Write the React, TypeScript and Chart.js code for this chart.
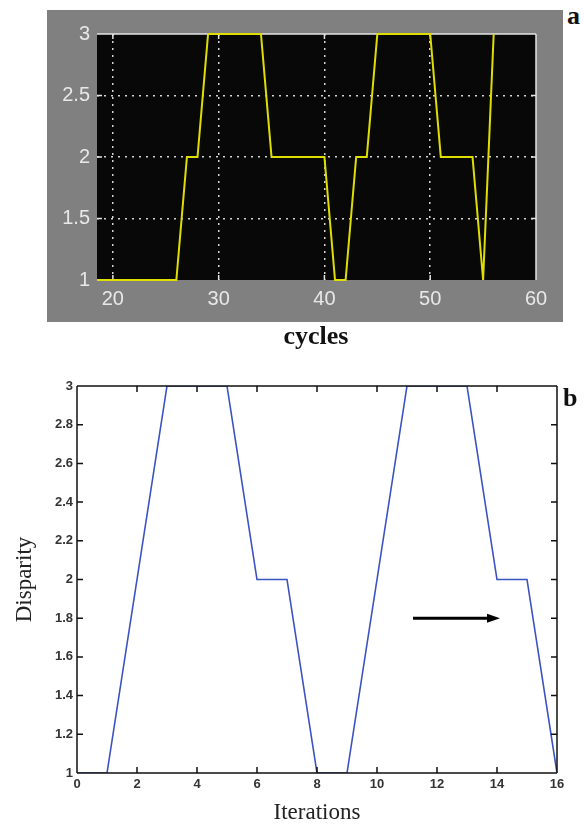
import React, { useEffect, useRef } from 'react';
import { Chart, registerables } from 'chart.js';

Chart.register(...registerables);

// ---------- Panel a: cycles ----------
const cyclesX = [18.5, 26, 27, 28, 29, 34, 35, 40, 41, 42, 43, 44, 45, 50, 51, 54, 55, 56];
const cyclesLevel = [1, 1, 2, 2, 3, 3, 2, 2, 1, 1, 2, 2, 3, 3, 2, 2, 1, 3];
const cyclesTicksX = [20, 30, 40, 50, 60];
const cyclesTicksY = [1, 1.5, 2, 2.5, 3];
const cyclesRange = [18.5, 60];
const levelRange = [1, 3];

// ---------- Panel b: iterations ----------
const iterations = [0, 1, 2, 3, 4, 5, 6, 7, 8, 9, 10, 11, 12, 13, 14, 15, 16];
const disparity = [1, 1, 2, 3, 3, 3, 2, 2, 1, 1, 2, 3, 3, 3, 2, 2, 1];
const iterTicksX = [0, 2, 4, 6, 8, 10, 12, 14, 16];
const dispTicksY = [1, 1.2, 1.4, 1.6, 1.8, 2, 2.2, 2.4, 2.6, 2.8, 3];
const iterRange = [0, 16];
const dispRange = [1, 3];
const arrowFrom = [11.2, 1.8];
const arrowTo = [14.1, 1.8];

const SANS = "'Liberation Sans', Arial, Helvetica, sans-serif";
const SERIF = "'Liberation Serif', 'Times New Roman', Times, serif";

type Side = 'top' | 'right' | 'bottom' | 'left';

function makeFramePlugin(id: string, color: string, width: number, tick: number, sides: Side[], before: boolean) {
  const draw = (chart: any) => {
    const { ctx, chartArea: a, scales } = chart;
    const xs = scales.x;
    const ys = scales.y;
    ctx.save();
    ctx.strokeStyle = color;
    ctx.lineWidth = width;
    ctx.lineCap = 'butt';
    ctx.setLineDash([]);
    ctx.beginPath();
    xs.ticks.forEach((t: any) => {
      const px = xs.getPixelForValue(t.value);
      if (px <= a.left + 1 || px >= a.right - 1) return;
      ctx.moveTo(px, a.bottom);
      ctx.lineTo(px, a.bottom - tick);
      ctx.moveTo(px, a.top);
      ctx.lineTo(px, a.top + tick);
    });
    ys.ticks.forEach((t: any) => {
      const py = ys.getPixelForValue(t.value);
      if (py <= a.top + 1 || py >= a.bottom - 1) return;
      ctx.moveTo(a.left, py);
      ctx.lineTo(a.left + tick, py);
      ctx.moveTo(a.right, py);
      ctx.lineTo(a.right - tick, py);
    });
    ctx.stroke();
    ctx.beginPath();
    if (sides.includes('top')) { ctx.moveTo(a.left, a.top); ctx.lineTo(a.right, a.top); }
    if (sides.includes('right')) { ctx.moveTo(a.right, a.top); ctx.lineTo(a.right, a.bottom); }
    if (sides.includes('bottom')) { ctx.moveTo(a.left, a.bottom); ctx.lineTo(a.right, a.bottom); }
    if (sides.includes('left')) { ctx.moveTo(a.left, a.top); ctx.lineTo(a.left, a.bottom); }
    ctx.stroke();
    ctx.restore();
  };
  return before ? { id, beforeDatasetsDraw: draw } : { id, afterDatasetsDraw: draw };
}

const blackArea = {
  id: 'blackArea',
  beforeDraw(chart: any) {
    const { ctx, chartArea: a } = chart;
    ctx.save();
    ctx.fillStyle = '#080808';
    ctx.fillRect(a.left, a.top, a.right - a.left, a.bottom - a.top);
    ctx.restore();
  },
};

const arrowPlugin = {
  id: 'arrow',
  afterDatasetsDraw(chart: any) {
    const { ctx, scales } = chart;
    const x0 = scales.x.getPixelForValue(arrowFrom[0]);
    const y0 = scales.y.getPixelForValue(arrowFrom[1]);
    const x1 = scales.x.getPixelForValue(arrowTo[0]);
    const y1 = scales.y.getPixelForValue(arrowTo[1]);
    const ang = Math.atan2(y1 - y0, x1 - x0);
    const c = Math.cos(ang);
    const s = Math.sin(ang);
    const hl = 13;
    const hw = 4.5;
    ctx.save();
    ctx.strokeStyle = '#000';
    ctx.fillStyle = '#000';
    ctx.lineWidth = 3;
    ctx.beginPath();
    ctx.moveTo(x0, y0);
    ctx.lineTo(x1 - hl * c, y1 - hl * s);
    ctx.stroke();
    ctx.beginPath();
    ctx.moveTo(x1, y1);
    ctx.lineTo(x1 - hl * c + hw * s, y1 - hl * s - hw * c);
    ctx.lineTo(x1 - hl * c - hw * s, y1 - hl * s + hw * c);
    ctx.closePath();
    ctx.fill();
    ctx.restore();
  },
};

const labelFmt = (v: any) => String(v);

export default function App() {
  const topRef = useRef<HTMLCanvasElement>(null);
  const botRef = useRef<HTMLCanvasElement>(null);

  useEffect(() => {
    const gridTop = (edge: number[]) => (ctx: any) =>
      ctx.tick && edge.includes(ctx.tick.value) ? 'rgba(0,0,0,0)' : '#d4d4d4';

    const c1 = new Chart(topRef.current as HTMLCanvasElement, {
      type: 'line',
      data: {
        datasets: [
          {
            data: cyclesX.map((x, i) => ({ x, y: cyclesLevel[i] })),
            borderColor: '#dede00',
            borderWidth: 2,
            pointRadius: 0,
            tension: 0,
            fill: false,
            clip: false as any,
          },
        ],
      },
      options: {
        responsive: false,
        animation: false,
        events: [],
        layout: { padding: { top: 24, right: 27, left: 0, bottom: 0 } },
        plugins: { legend: { display: false }, tooltip: { enabled: false } },
        scales: {
          x: {
            type: 'linear',
            min: cyclesRange[0],
            max: cyclesRange[1],
            afterBuildTicks: (s: any) => { s.ticks = cyclesTicksX.map((v) => ({ value: v })); },
            afterFit: (s: any) => { s.height = 42; },
            grid: { color: gridTop([cyclesRange[0], cyclesRange[1]]), lineWidth: 1.5, drawTicks: false },
            border: { display: false, dash: [2, 5] },
            ticks: { color: '#e8e8e8', font: { family: SANS, size: 20 }, padding: 7, maxRotation: 0, autoSkip: false, callback: labelFmt },
          },
          y: {
            type: 'linear',
            min: levelRange[0],
            max: levelRange[1],
            afterBuildTicks: (s: any) => { s.ticks = cyclesTicksY.map((v) => ({ value: v })); },
            afterFit: (s: any) => { s.width = 50; },
            grid: { color: gridTop([levelRange[0], levelRange[1]]), lineWidth: 1.5, drawTicks: false },
            border: { display: false, dash: [2, 5] },
            ticks: { color: '#e8e8e8', font: { family: SANS, size: 20 }, padding: 7, autoSkip: false, callback: labelFmt },
          },
        },
      } as any,
      plugins: [blackArea, makeFramePlugin('frameA', '#e4e4e4', 1.5, 5, ['top', 'right'], true)],
    });

    const c2 = new Chart(botRef.current as HTMLCanvasElement, {
      type: 'line',
      data: {
        datasets: [
          {
            data: iterations.map((x, i) => ({ x, y: disparity[i] })),
            borderColor: '#3a52c2',
            borderWidth: 1.6,
            pointRadius: 0,
            tension: 0,
            fill: false,
          },
        ],
      },
      options: {
        responsive: false,
        animation: false,
        events: [],
        layout: { padding: { top: 34, right: 27, left: 0, bottom: 0 } },
        plugins: { legend: { display: false }, tooltip: { enabled: false } },
        scales: {
          x: {
            type: 'linear',
            min: iterRange[0],
            max: iterRange[1],
            afterBuildTicks: (s: any) => { s.ticks = iterTicksX.map((v) => ({ value: v })); },
            afterFit: (s: any) => { s.height = 56; },
            grid: { display: false, drawTicks: false },
            border: { display: false },
            ticks: { color: '#333', font: { family: SANS, size: 13, weight: 'bold' }, padding: 4, maxRotation: 0, autoSkip: false, callback: labelFmt },
            title: { display: true, text: 'Iterations', color: '#222', font: { family: SERIF, size: 23, weight: 'normal' }, padding: { top: 0, bottom: 2 } },
          },
          y: {
            type: 'linear',
            min: dispRange[0],
            max: dispRange[1],
            afterBuildTicks: (s: any) => { s.ticks = dispTicksY.map((v) => ({ value: v })); },
            afterFit: (s: any) => { s.width = 77; },
            grid: { display: false, drawTicks: false },
            border: { display: false },
            ticks: { color: '#333', font: { family: SANS, size: 13, weight: 'bold' }, padding: 4, autoSkip: false, callback: labelFmt },
            title: { display: true, text: 'Disparity', color: '#222', font: { family: SERIF, size: 23, weight: 'normal' }, padding: { top: 11, bottom: 0 } },
          },
        },
      } as any,
      plugins: [makeFramePlugin('frameB', '#111', 1.5, 6, ['top', 'right', 'bottom', 'left'], false), arrowPlugin],
    });

    return () => {
      c1.destroy();
      c2.destroy();
    };
  }, []);

  const panelLabel: React.CSSProperties = {
    position: 'absolute',
    fontFamily: SERIF,
    fontWeight: 'bold',
    fontSize: 26,
    lineHeight: '26px',
    color: '#111',
    whiteSpace: 'nowrap',
  };

  return (
    <div style={{ position: 'absolute', left: 0, top: 0, width: 584, height: 829, background: '#fff', overflow: 'hidden' }}>
      <canvas
        ref={topRef}
        width={516}
        height={312}
        style={{ position: 'absolute', left: 47, top: 10, width: 516, height: 312, background: '#808080' }}
      />
      <div style={{ ...panelLabel, left: 567, top: 3 }}>a</div>
      <div style={{ ...panelLabel, left: 216, top: 323, width: 200, textAlign: 'center' }}>cycles</div>
      <canvas
        ref={botRef}
        width={584}
        height={477}
        style={{ position: 'absolute', left: 0, top: 352, width: 584, height: 477 }}
      />
      <div style={{ ...panelLabel, left: 563, top: 385 }}>b</div>
    </div>
  );
}
